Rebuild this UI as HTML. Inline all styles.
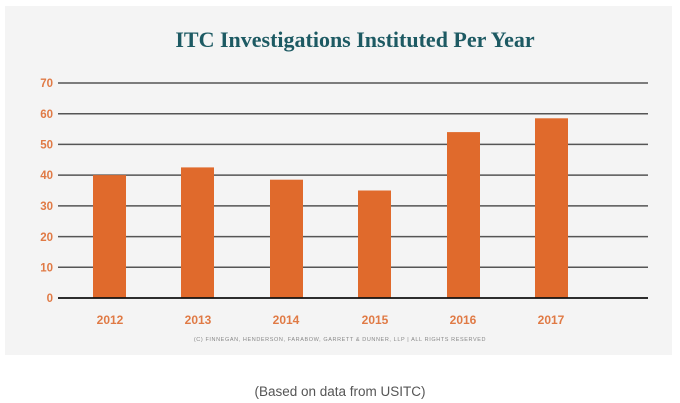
<!DOCTYPE html>
<html><head><style>
body{margin:0;background:#fff;width:680px;height:403px;overflow:hidden;font-family:"Liberation Sans",sans-serif}
</style></head><body>
<svg width="680" height="403" style="position:absolute;left:0;top:0">
<rect x="5" y="6" width="667" height="349" fill="#f4f4f4"/>
<text x="355" y="47" text-anchor="middle" font-family="Liberation Serif" font-weight="bold" font-size="22" fill="#1d5a63">ITC Investigations Instituted Per Year</text>
<g stroke="#555" stroke-width="1.5">
<line x1="58" x2="648" y1="83" y2="83"/><line x1="58" x2="648" y1="113.7" y2="113.7"/>
<line x1="58" x2="648" y1="144.4" y2="144.4"/><line x1="58" x2="648" y1="175.1" y2="175.1"/>
<line x1="58" x2="648" y1="205.9" y2="205.9"/><line x1="58" x2="648" y1="236.6" y2="236.6"/>
<line x1="58" x2="648" y1="267.3" y2="267.3"/>
</g>
<g fill="#e06a2c">
<rect x="93" y="175.1" width="33" height="122.9"/>
<rect x="181" y="167.4" width="33" height="130.6"/>
<rect x="270" y="179.7" width="33" height="118.3"/>
<rect x="358" y="190.5" width="33" height="107.5"/>
<rect x="447" y="132.1" width="33" height="165.9"/>
<rect x="535" y="118.3" width="33" height="179.7"/>
</g>
<line x1="58" x2="648" y1="298" y2="298" stroke="#111" stroke-width="1.8"/>
<g font-size="11.5" font-weight="bold" fill="#e07a45" text-anchor="end">
<text x="53" y="87">70</text><text x="53" y="118">60</text><text x="53" y="148.5">50</text>
<text x="53" y="179">40</text><text x="53" y="210">30</text><text x="53" y="241">20</text>
<text x="53" y="271.5">10</text><text x="53" y="302">0</text>
</g>
<g font-size="12" font-weight="bold" fill="#e07a45" text-anchor="middle">
<text x="110" y="324">2012</text><text x="198" y="324">2013</text><text x="286" y="324">2014</text>
<text x="375" y="324">2015</text><text x="463" y="324">2016</text><text x="551" y="324">2017</text>
</g>
<text x="340" y="341" text-anchor="middle" font-size="5.5" fill="#888" letter-spacing="0.6">(C) FINNEGAN, HENDERSON, FARABOW, GARRETT &amp; DUNNER, LLP | ALL RIGHTS RESERVED</text>
<text x="340" y="396" text-anchor="middle" font-size="13.5" fill="#555">(Based on data from USITC)</text>
</svg>
</body></html>
